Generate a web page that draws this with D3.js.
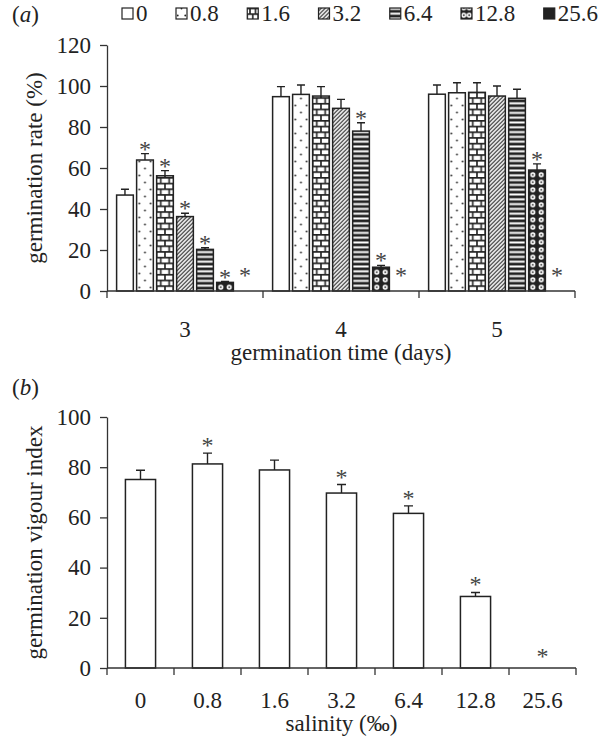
<!DOCTYPE html>
<html><head><meta charset="utf-8">
<script src="https://cdn.jsdelivr.net/npm/d3@7"></script>
<style>
body{margin:0;background:#fff}
text{font-family:"Liberation Serif","Times New Roman",Times,serif;fill:#222}
</style>
</head><body>
<svg id="c" width="601" height="742"></svg>
<script>
// ---------------- data ----------------
const salinity = ["0","0.8","1.6","3.2","6.4","12.8","25.6"];
const days = ["3","4","5"];
const rateDay3 = [46.8,63.9,56.2,36.3,20.3,4.2,0];
const errDay3  = [2.8,3.1,2.5,1.6,0.8,0.4,0];
const sigDay3  = [0,1,1,1,1,1,1];
const rateDay4 = [94.8,95.9,95.1,89.1,78.0,11.6,0];
const errDay4  = [4.9,4.6,4.6,4.4,4.1,0.9,0];
const sigDay4  = [0,0,0,0,1,1,1];
const rateDay5 = [96.0,96.7,96.9,95.1,94.0,59.0,0];
const errDay5  = [4.5,4.9,4.7,4.9,4.4,3.0,0];
const sigDay5  = [0,0,0,0,0,1,1];
const rateTicks = [0,20,40,60,80,100,120];
const vigour    = [75.1,81.3,78.9,69.7,61.6,28.5,0];
const vigourErr = [3.7,4.3,3.9,3.4,3.0,1.6,0];
const vigourSig = [0,1,0,1,1,1,1];
const vigourTicks = [0,20,40,60,80,100];

const rateRows = [rateDay3, rateDay4, rateDay5];
const errRows  = [errDay3, errDay4, errDay5];
const sigRows  = [sigDay3, sigDay4, sigDay5];

// ---------------- setup ----------------
const svg = d3.select("#c");
const defs = svg.append("defs");
const INK = "#222";
const FS = 23;

function makePattern(id, kind, x0, y0, bw){
  const p = defs.append("pattern").attr("id", id).attr("patternUnits","userSpaceOnUse")
    .attr("x", x0).attr("y", y0);
  if(kind === 1){ // dots
    const h = 14;
    p.attr("width", bw).attr("height", h);
    p.append("rect").attr("width", bw).attr("height", h).attr("fill","#fff");
    p.append("circle").attr("cx", bw/2).attr("cy", 3.5).attr("r", 0.9).attr("fill", INK);
    p.append("circle").attr("cx", bw*0.16).attr("cy", 10.5).attr("r", 0.9).attr("fill", INK);
    p.append("circle").attr("cx", bw*0.84).attr("cy", 10.5).attr("r", 0.9).attr("fill", INK);
  } else if(kind === 2){ // bricks
    const w = bw/2, h = 11.4;
    p.attr("width", w).attr("height", h);
    p.append("rect").attr("width", w).attr("height", h).attr("fill","#fff");
    p.append("path").attr("d",
      `M0,0.8H${w} M0,${h/2+0.8}H${w} M${w/2},0.8V${h/2+0.8} M0,${h/2+0.8}V${h+0.8} M${w},${h/2+0.8}V${h+0.8}`)
      .attr("stroke", INK).attr("stroke-width", 1.6).attr("fill","none");
  } else if(kind === 3){ // diagonal hatch
    const s = 4;
    p.attr("width", s).attr("height", s);
    p.append("rect").attr("width", s).attr("height", s).attr("fill","#fff");
    p.append("path").attr("d", `M-1,1L1,-1 M0,${s}L${s},0 M${s-1},${s+1}L${s+1},${s-1}`)
      .attr("stroke", INK).attr("stroke-width", 1.2);
  } else if(kind === 4){ // horizontal stripes
    const h = 4.8;
    p.attr("width", 10).attr("height", h);
    p.append("rect").attr("width", 10).attr("height", h).attr("fill","#fff");
    p.append("rect").attr("y", 0.5).attr("width", 10).attr("height", 2.8).attr("fill", INK);
  } else if(kind === 5){ // dark with white circles
    const w = bw/2, h = 7.5;
    p.attr("width", w).attr("height", h);
    p.append("rect").attr("width", w).attr("height", h).attr("fill", INK);
    p.append("circle").attr("cx", w/2).attr("cy", h/2).attr("r", 2.6).attr("fill","#fff");
    p.append("circle").attr("cx", w/2).attr("cy", h/2).attr("r", 0.9).attr("fill", INK);
  }
  return `url(#${id})`;
}
function fillFor(i, id, x0, y0, bw){
  if(i === 0) return "#fff";
  if(i === 6) return INK;
  return makePattern(id, i, x0, y0, bw);
}

// ---------------- panel (a) ----------------
const A = {left:107, right:575, top:45, bottom:291};
const xa = d3.scaleBand().domain(days).range([A.left, A.right]);
const xs = d3.scaleBand().domain(salinity).range([0, xa.bandwidth()]).paddingInner(0.165).paddingOuter(0.48);
const ya = d3.scaleLinear().domain([0,120]).range([A.bottom, A.top]);

svg.append("text").attr("x", 12).attr("y", 22).style("font-size", FS+"px")
  .html('(<tspan font-style="italic">a</tspan>)');

const ga = svg.append("g");
days.forEach((d, gi) => {
  salinity.forEach((s, i) => {
    const v = rateRows[gi][i], e = errRows[gi][i];
    const bx = xa(d) + xs(s), bw = xs.bandwidth();
    if(v > 0){
      ga.append("rect").attr("x", bx).attr("y", ya(v)).attr("width", bw).attr("height", ya(0)-ya(v))
        .attr("fill", fillFor(i, `pa${gi}_${i}`, bx, ya(0), bw))
        .attr("stroke", INK).attr("stroke-width", 1.5);
    }
    if(e > 0){
      const cx = bx + bw/2;
      ga.append("path").attr("d", `M${cx},${ya(v)}V${ya(v+e)}M${cx-4},${ya(v+e)}H${cx+4}`)
        .attr("stroke", INK).attr("stroke-width", 1.4).attr("fill","none");
    }
    if(sigRows[gi][i]){
      ga.append("text").attr("x", bx + bw/2).attr("y", ya(v+e) + (v>0?3:-8))
        .attr("text-anchor","middle").style("font-size","24px").style("fill","#444").text("*");
    }
  });
});

// axes (a)
const yAxA = d3.axisLeft(ya).tickValues(rateTicks).tickSize(7).tickSizeOuter(0).tickPadding(9);
const gya = svg.append("g").attr("transform", `translate(${A.left},0)`).call(yAxA);
gya.selectAll("text").style("font-size", FS+"px");
gya.selectAll("path,line").attr("stroke", "#333").attr("stroke-width", 1.3);

const gxa = svg.append("g").attr("transform", `translate(0,${A.bottom})`);
gxa.append("path").attr("d", `M${A.left},0H${A.right}`).attr("stroke","#333").attr("stroke-width",1.3);
const bndA = days.map(d => xa(d)).concat([xa(days[days.length-1]) + xa.bandwidth()]);
gxa.selectAll("line").data(bndA).join("line").attr("x1", d=>d).attr("x2", d=>d).attr("y1",0).attr("y2",7)
  .attr("stroke","#333").attr("stroke-width",1.3);
gxa.selectAll("text").data(days).join("text").attr("x", d => xa(d)+xa.bandwidth()/2).attr("y", 46)
  .attr("text-anchor","middle").style("font-size",FS+"px").text(d=>d);
svg.append("text").attr("x", (A.left+A.right)/2).attr("y", 360).attr("text-anchor","middle")
  .style("font-size",FS+"px").text("germination time (days)");
svg.append("text").attr("transform", `translate(42,${(A.top+A.bottom)/2}) rotate(-90)`)
  .attr("text-anchor","middle").style("font-size",FS+"px").text("germination rate (%)");

// legend: spread from x=122 to x=598
const lg = svg.append("g");
const lTexts = salinity.map(s => lg.append("text").attr("y", 21).style("font-size",FS+"px").text(s));
const lW = lTexts.map(t => t.node().getComputedTextLength());
const lStart = 122, lEnd = 598, swW = 11, swGap = 3;
const lGap = (lEnd - lStart - d3.sum(lW) - salinity.length*(swW+swGap)) / (salinity.length-1);
let lx = lStart;
salinity.forEach((s, i) => {
  lg.append("rect").attr("x", lx).attr("y", 8).attr("width", swW).attr("height", swW)
    .attr("stroke", INK).attr("stroke-width", 1.2)
    .attr("fill", i===0 ? "#fff" : i===6 ? INK : makePattern(`pl${i}`, i, lx, 19, swW));
  lTexts[i].attr("x", lx + swW + swGap);
  lx += swW + swGap + lW[i] + lGap;
});

// ---------------- panel (b) ----------------
const B = {left:107, right:576, top:417, bottom:668};
const xb = d3.scaleBand().domain(salinity).range([B.left, B.right]).paddingInner(0.55).paddingOuter(0.275);
const yb = d3.scaleLinear().domain([0,100]).range([B.bottom, B.top]);

svg.append("text").attr("x", 12).attr("y", 395).style("font-size", FS+"px")
  .html('(<tspan font-style="italic">b</tspan>)');

const gb = svg.append("g");
salinity.forEach((s, i) => {
  const v = vigour[i], e = vigourErr[i];
  const bx = xb(s), bw = xb.bandwidth(), cx = bx + bw/2;
  if(v > 0){
    gb.append("rect").attr("x", bx).attr("y", yb(v)).attr("width", bw).attr("height", yb(0)-yb(v))
      .attr("fill","#fff").attr("stroke", INK).attr("stroke-width", 1.5);
  }
  if(e > 0){
    gb.append("path").attr("d", `M${cx},${yb(v)}V${yb(v+e)}M${cx-4.5},${yb(v+e)}H${cx+4.5}`)
      .attr("stroke", INK).attr("stroke-width", 1.4).attr("fill","none");
  }
  if(vigourSig[i]){
    gb.append("text").attr("x", cx).attr("y", yb(v+e) + (v>0?0:-4))
      .attr("text-anchor","middle").style("font-size","24px").style("fill","#444").text("*");
  }
});

const yAxB = d3.axisLeft(yb).tickValues(vigourTicks).tickSize(7).tickSizeOuter(0).tickPadding(9);
const gyb = svg.append("g").attr("transform", `translate(${B.left},0)`).call(yAxB);
gyb.selectAll("text").style("font-size", FS+"px");
gyb.selectAll("path,line").attr("stroke", "#333").attr("stroke-width", 1.3);

const gxb = svg.append("g").attr("transform", `translate(0,${B.bottom})`);
gxb.append("path").attr("d", `M${B.left},0H${B.right}`).attr("stroke","#333").attr("stroke-width",1.3);
const stepB = xb.step();
const bndB = salinity.map(s => xb(s) - xb.paddingInner()*stepB/2).concat([B.right]);
gxb.selectAll("line").data(bndB).join("line").attr("x1", d=>d).attr("x2", d=>d).attr("y1",0).attr("y2",7)
  .attr("stroke","#333").attr("stroke-width",1.3);
gxb.selectAll("text").data(salinity).join("text").attr("x", d => xb(d)+xb.bandwidth()/2).attr("y", 40)
  .attr("text-anchor","middle").style("font-size",FS+"px").text(d=>d);
svg.append("text").attr("x", (B.left+B.right)/2).attr("y", 731).attr("text-anchor","middle")
  .style("font-size",FS+"px").text("salinity (‰)");
svg.append("text").attr("transform", `translate(42,${(B.top+B.bottom)/2}) rotate(-90)`)
  .attr("text-anchor","middle").style("font-size",FS+"px").text("germination vigour index");
</script>
</body></html>
